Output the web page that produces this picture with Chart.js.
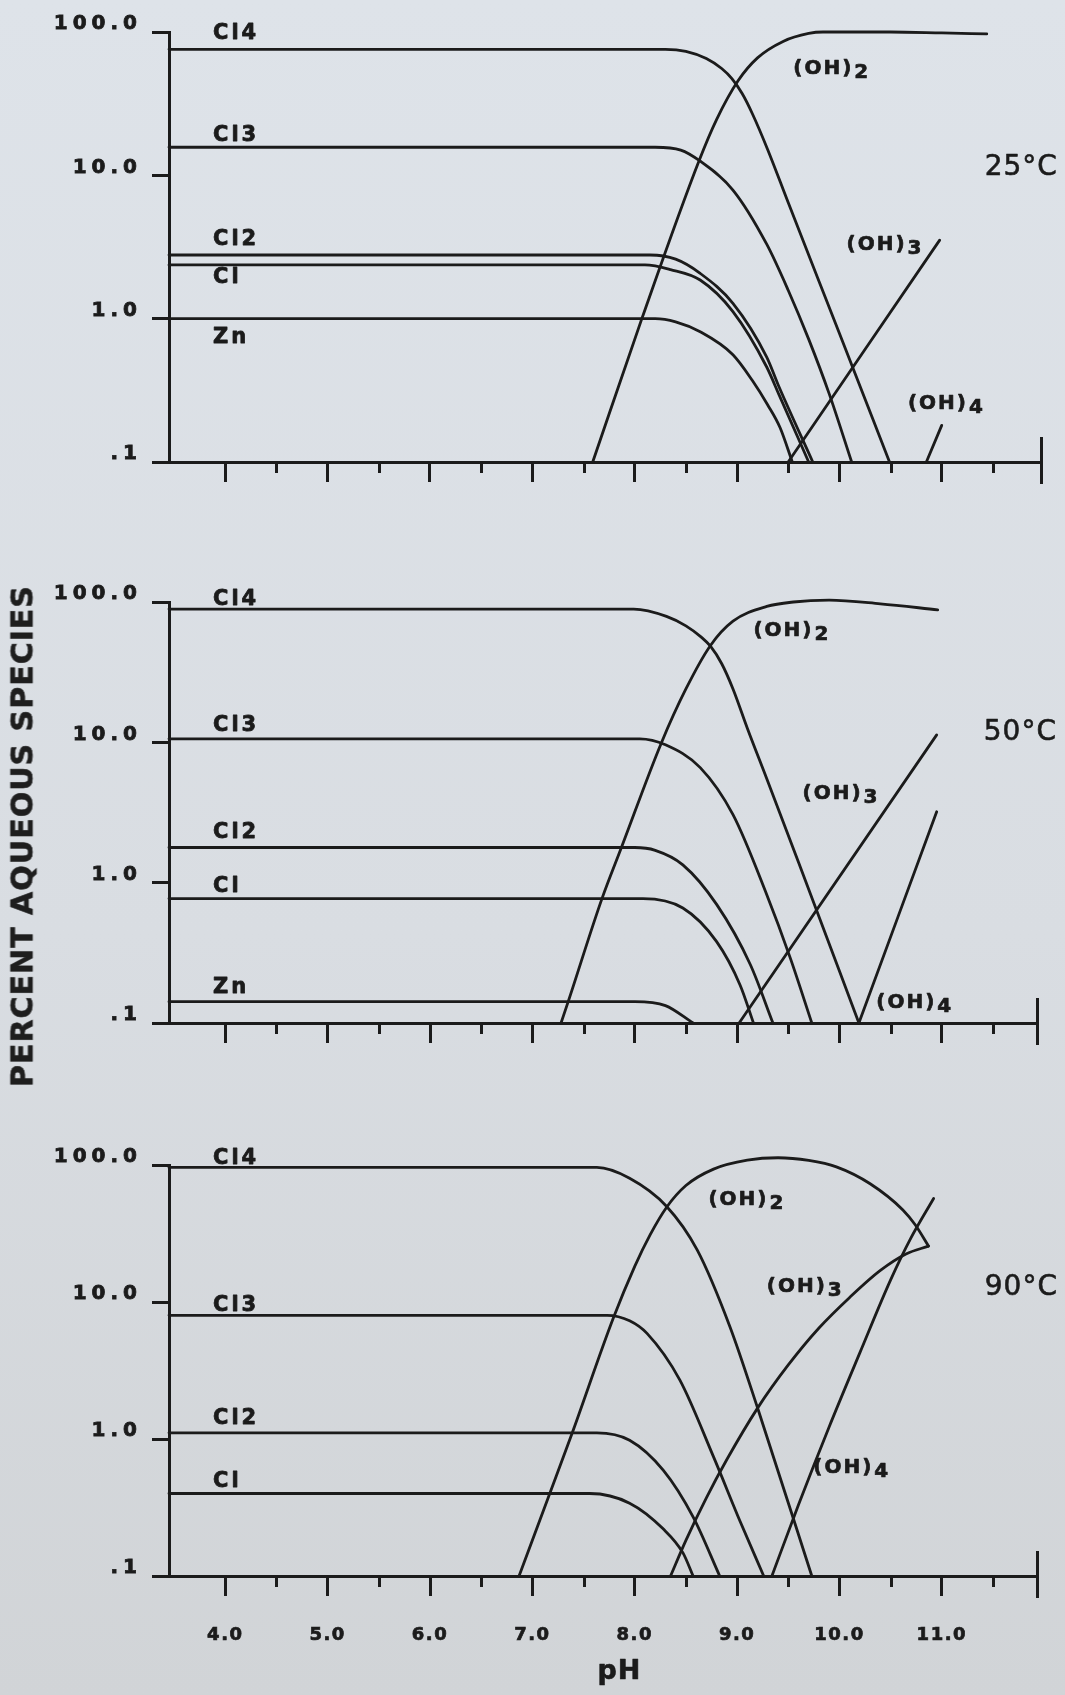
<!DOCTYPE html>
<html>
<head>
<meta charset="utf-8">
<script src="https://cdn.jsdelivr.net/npm/chart.js@4.4.1/dist/chart.umd.min.js"></script>
<style>
  html, body { margin: 0; padding: 0; }
  body {
    width: 1065px; height: 1695px; position: relative; overflow: hidden;
    background: linear-gradient(180deg, #dee3e9 0%, #d9dde2 55%, #d1d4d7 100%);
  }
  canvas { position: absolute; left: 0; }
  #ylab {
    position: absolute; left: 22px; top: 836px;
    transform: translate(-50%, -50%) rotate(-90deg);
    font: bold 30px "DejaVu Sans", sans-serif; letter-spacing: 1px;
    white-space: nowrap; color: #1e1e1e;
    -webkit-text-stroke: 0.6px #1e1e1e;
  }
</style>
</head>
<body>
<canvas id="c25" width="1065" height="530" style="top:0px"></canvas>
<canvas id="c50" width="1065" height="545" style="top:540px"></canvas>
<canvas id="c90" width="1065" height="605" style="top:1090px"></canvas>
<div id="ylab">PERCENT AQUEOUS SPECIES</div>
<script>
// ---------- axis values ----------
const X_MIN = 3.45;
const X_MAJOR = [4, 5, 6, 7, 8, 9, 10, 11];
const X_MINOR = [4.5, 5.5, 6.5, 7.5, 8.5, 9.5, 10.5, 11.5];
const Y_TICKS = [0.1, 1, 10, 100];
const Y_TICK_LABELS = ['.1', '1.0', '10.0', '100.0'];
const X_TITLE = ['pH', 7.85];

// ---------- 25 °C : [pH, percent] ----------
const T25_CL4 = [[3.45,75.7],[8.3,75.7],[8.5,73.3],[8.7,65.3],[8.85,55.6],[8.95,47.3],[9.05,37.2],[9.15,26.9],[9.3,15.1],[9.5,6.46],[10.0,0.79],[10.49,0.1]];
const T25_CL3 = [[3.45,15.7],[8.2,15.7],[8.45,15],[8.63,12.7],[8.96,7.9],[9.29,3.31],[9.5,1.58],[9.7,0.72],[9.9,0.30],[10.12,0.1]];
const T25_CL2 = [[3.45,2.78],[8.15,2.78],[8.4,2.6],[8.64,2.07],[8.96,1.28],[9.29,0.54],[9.41,0.335],[9.74,0.1]];
const T25_CL1 = [[3.45,2.37],[8.1,2.37],[8.35,2.2],[8.64,1.86],[8.96,1.12],[9.29,0.46],[9.41,0.295],[9.7,0.1]];
const T25_ZN  = [[3.45,1.0],[8.2,1.0],[8.4,0.95],[8.64,0.81],[8.96,0.56],[9.15,0.37],[9.3,0.25],[9.42,0.174],[9.54,0.1]];
const T25_OH2 = [[7.59,0.1],[8.07,1.0],[8.63,12.7],[8.8,24.5],[9.01,45.7],[9.2,66],[9.45,86],[9.7,97.7],[9.84,100],[10.5,100],[11.0,98.5],[11.44,97]];
const T25_OH3 = [[9.5,0.1],[10.98,3.53]];
const T25_OH4 = [[10.85,0.1],[11.0,0.18]];

// ---------- 50 °C ----------
const T50_CL4 = [[3.45,89],[7.99,89],[8.31,79],[8.5,67.6],[8.65,56.2],[8.74,48.4],[8.85,36.3],[8.96,24],[9.1,12.6],[9.29,5.5],[9.6,1.4],[10.19,0.1]];
const T50_CL3 = [[3.45,10.6],[8.05,10.6],[8.3,9.6],[8.64,6.6],[8.96,3.05],[9.29,0.82],[9.52,0.29],[9.73,0.1]];
const T50_CL2 = [[3.45,1.78],[8.0,1.78],[8.2,1.7],[8.47,1.34],[8.8,0.7],[9.13,0.26],[9.35,0.1]];
const T50_CL1 = [[3.45,0.77],[8.08,0.77],[8.47,0.66],[8.8,0.38],[9.03,0.186],[9.16,0.1]];
const T50_ZN  = [[3.45,0.142],[8.0,0.142],[8.3,0.133],[8.57,0.1]];
const T50_OH2 = [[7.28,0.1],[7.35,0.142],[7.68,0.77],[7.87,1.78],[8.26,9.9],[8.5,24],[8.74,49],[8.96,73],[9.29,93],[9.55,100],[9.9,103],[10.4,97],[10.96,88]];
const T50_OH3 = [[9.02,0.1],[10.95,11.3]];
const T50_OH4 = [[10.19,0.1],[10.95,3.2]];

// ---------- 90 °C ----------
const T90_CL4 = [[3.45,96],[7.63,96],[7.95,80],[8.31,50],[8.61,24],[8.93,6.6],[9.21,1.6],[9.73,0.1]];
const T90_CL3 = [[3.45,8.0],[7.73,8.0],[7.95,7.3],[8.12,5.9],[8.44,2.7],[8.77,0.74],[9.03,0.25],[9.26,0.1]];
const T90_CL2 = [[3.45,1.11],[7.63,1.11],[7.95,0.98],[8.28,0.59],[8.57,0.27],[8.83,0.1]];
const T90_CL1 = [[3.45,0.4],[7.56,0.4],[7.95,0.34],[8.28,0.22],[8.47,0.148],[8.57,0.1]];
const T90_OH2 = [[6.87,0.1],[7.17,0.4],[7.39,1.11],[7.79,7.6],[8.0,18.2],[8.15,30.9],[8.31,49],[8.5,70.8],[8.77,93.3],[9.1,108.4],[9.4,113],[9.7,108],[9.97,97],[10.3,73],[10.62,47],[10.74,36.6],[10.87,25.6]];
const T90_OH3 = [[8.35,0.1],[8.5,0.182],[8.7,0.372],[8.9,0.708],[9.2,1.68],[9.5,3.47],[9.8,6.46],[10.1,10.8],[10.4,17],[10.65,22.4],[10.87,25.6]];
const T90_OH4 = [[9.34,0.1],[9.6,0.331],[9.9,1.23],[10.2,4.27],[10.5,14.5],[10.7,29.5],[10.92,57]];

// ---------- curve labels: [text, pH, percent] ----------
const LABELS_25 = [['Cl4',3.88,98],['Cl3',3.88,19.1],['Cl2',3.88,3.57],['Cl',3.88,1.94],['Zn',3.88,0.74],
                   ['(OH)2',9.55,55],['(OH)3',10.07,3.27],['(OH)4',10.67,0.254]];
const LABELS_50 = [['Cl4',3.88,104],['Cl3',3.88,13.2],['Cl2',3.88,2.26],['Cl',3.88,0.94],['Zn',3.88,0.178],
                   ['(OH)2',9.16,62],['(OH)3',9.64,4.3],['(OH)4',10.36,0.139]];
const LABELS_90 = [['Cl4',3.88,112],['Cl3',3.88,9.4],['Cl2',3.88,1.42],['Cl',3.88,0.49],
                   ['(OH)2',8.72,56],['(OH)3',9.29,12.9],['(OH)4',9.745,0.62]];
const TEMP_25 = ['25°C', 11.42, 11.3];
const TEMP_50 = ['50°C', 11.41, 11.8];
const TEMP_90 = ['90°C', 11.42, 12.8];

// ---------- drawing ----------
const INK = '#1b1b1b';
const FAM = '"DejaVu Sans", "Liberation Sans", sans-serif';
Chart.defaults.font.family = FAM;

function inkText(ctx, txt, x, y, stroke) {
  ctx.fillText(txt, x, y);
  if (stroke) { ctx.lineWidth = stroke; ctx.strokeText(txt, x, y); }
}

const extras = {
  id: 'extras',
  beforeDraw(chart) { chart.ctx.letterSpacing = '5px'; },
  afterDatasetsDraw(chart, args, opts) {
    const { ctx, scales: { x, y }, chartArea } = chart;
    ctx.save();
    // minor ticks and right end bar
    ctx.strokeStyle = INK; ctx.lineWidth = 3; ctx.lineCap = 'butt';
    ctx.beginPath();
    for (const v of X_MINOR) {
      const px = Math.round(x.getPixelForValue(v)) + 0.5;
      ctx.moveTo(px, chartArea.bottom); ctx.lineTo(px, chartArea.bottom + 11);
    }
    const ex = Math.round(x.getPixelForValue(x.max)) + 0.5;
    ctx.moveTo(ex, chartArea.bottom - 25); ctx.lineTo(ex, chartArea.bottom + 22);
    ctx.stroke();
    // species labels
    ctx.fillStyle = INK; ctx.strokeStyle = INK; ctx.lineJoin = 'round';
    ctx.textBaseline = 'middle'; ctx.textAlign = 'left';
    for (const [txt, px, py] of opts.items) {
      const X = x.getPixelForValue(px), Y = y.getPixelForValue(py);
      if (txt.startsWith('(OH)')) {
        ctx.font = `bold 20px ${FAM}`; ctx.letterSpacing = '2px';
        const head = txt.slice(0, 4), sub = txt.slice(4);
        inkText(ctx, head, X, Y, 0.7);
        const w = ctx.measureText(head).width;
        inkText(ctx, sub, X + w + 1, Y + 4, 0.7);
      } else {
        ctx.font = `bold 21px ${FAM}`; ctx.letterSpacing = '3px';
        inkText(ctx, txt, X, Y, 0.8);
      }
    }
    const [t, tx, ty] = opts.temp;
    ctx.font = `28px ${FAM}`; ctx.letterSpacing = '1px';
    inkText(ctx, t, x.getPixelForValue(tx), y.getPixelForValue(ty), 0.6);
    if (opts.title) {
      ctx.font = `bold 27px ${FAM}`; ctx.letterSpacing = '1px'; ctx.textAlign = 'center';
      inkText(ctx, opts.title[0], x.getPixelForValue(opts.title[1]), chartArea.bottom + 96, 0.6);
    }
    ctx.restore();
    ctx.letterSpacing = '1.5px';   // x tick labels are drawn after this (z = 1)
  },
  afterDraw(chart) { chart.ctx.letterSpacing = '0px'; }
};

function buildPanel(id, p) {
  const datasets = p.series.map(s => ({
    data: s.map(([x, y]) => ({ x, y })),
    borderColor: INK, borderWidth: 2.8, pointRadius: 0, fill: false,
    cubicInterpolationMode: 'monotone', clip: false,
    borderCapStyle: 'round', borderJoinStyle: 'round'
  }));
  return new Chart(document.getElementById(id), {
    type: 'line',
    data: { datasets },
    options: {
      responsive: false, animation: false, devicePixelRatio: 1, events: [],
      layout: { autoPadding: false, padding: { top: p.top, right: p.right, bottom: 0, left: 0 } },
      plugins: {
        legend: { display: false }, tooltip: { enabled: false },
        extras: { items: p.labels, temp: p.temp, title: p.xlabels ? X_TITLE : null }
      },
      scales: {
        x: {
          type: 'linear', position: 'bottom', min: X_MIN, max: p.xmax,
          afterBuildTicks: s => { s.ticks = X_MAJOR.map(v => ({ value: v })); },
          afterFit: s => { s.height = p.xh; },
          grid: { display: true, drawOnChartArea: false, drawTicks: true, tickLength: 20,
                  tickWidth: 3, tickColor: INK, color: INK, lineWidth: 3 },
          border: { display: true, width: 3, color: INK },
          ticks: {
            display: p.xlabels, z: 1, autoSkip: false, maxRotation: 0, padding: 29,
            color: INK, textStrokeColor: INK, textStrokeWidth: 0.7,
            font: { size: 18, weight: 'bold', family: FAM },
            callback: v => Number(v).toFixed(1)
          }
        },
        y: {
          type: 'logarithmic', position: 'left', min: 0.1, max: 100,
          afterBuildTicks: s => { s.ticks = Y_TICKS.map(v => ({ value: v })); },
          afterFit: s => { s.width = 169; },
          grid: { display: true, drawOnChartArea: false, drawTicks: true, tickLength: 17,
                  tickWidth: 3, tickColor: INK, color: INK, lineWidth: 3 },
          border: { display: true, width: 3, color: INK },
          ticks: {
            autoSkip: false, padding: 10, labelOffset: -8, color: INK,
            textStrokeColor: INK, textStrokeWidth: 0.8,
            font: { size: 20, weight: 'bold', family: FAM },
            callback: v => Y_TICK_LABELS[Y_TICKS.indexOf(v)]
          }
        }
      }
    },
    plugins: [extras]
  });
}

buildPanel('c25', { top: 32, right: 24, xmax: 11.97, xh: 68, xlabels: false,
  series: [T25_CL4, T25_CL3, T25_CL2, T25_CL1, T25_ZN, T25_OH2, T25_OH3, T25_OH4],
  labels: LABELS_25, temp: TEMP_25 });
buildPanel('c50', { top: 62, right: 28, xmax: 11.93, xh: 62, xlabels: false,
  series: [T50_CL4, T50_CL3, T50_CL2, T50_CL1, T50_ZN, T50_OH2, T50_OH3, T50_OH4],
  labels: LABELS_50, temp: TEMP_50 });
buildPanel('c90', { top: 75, right: 28, xmax: 11.93, xh: 119, xlabels: true,
  series: [T90_CL4, T90_CL3, T90_CL2, T90_CL1, T90_OH2, T90_OH3, T90_OH4],
  labels: LABELS_90, temp: TEMP_90 });
</script>
</body>
</html>
